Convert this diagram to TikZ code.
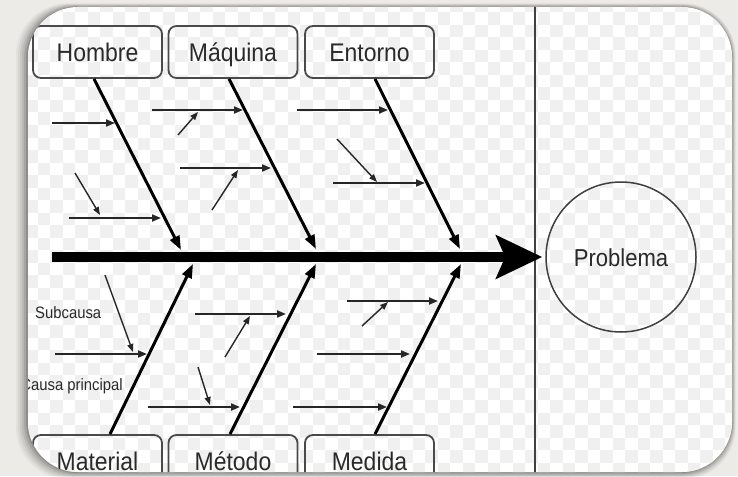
\documentclass[tikz,border=0pt]{standalone}
\usepackage{fontspec}
\newfontfamily\labfont[FakeStretch=0.9]{Liberation Sans}
\usetikzlibrary{arrows.meta}
\definecolor{bgout}{HTML}{ECEBE7}
\definecolor{chk}{HTML}{F0F0F0}
\definecolor{ink}{HTML}{2A2A2A}
\definecolor{boxline}{HTML}{4A4A4A}
\begin{document}
\begin{tikzpicture}[x=1pt,y=-1pt,
  catbox/.style={draw=boxline, line width=1.8pt, rounded corners=8pt,
    minimum width=129pt, minimum height=52pt, inner sep=0pt,
    text height=20pt, text depth=1pt, text=ink,
    font=\labfont\fontsize{25.5}{30}\selectfont},
  smalltxt/.style={text=ink, font=\labfont\fontsize{16.5}{20}\selectfont, inner sep=0pt},
  bone/.style={line width=3pt, -{Triangle[length=14pt,width=10pt]}},
  subarrow/.style={line width=2pt, draw=black!85, -{Triangle[length=9pt,width=7pt]}},
  subsub/.style={line width=1.4pt, draw=black!85, -{Triangle[length=8pt,width=6pt]}},
  frameshape/.style={rounded corners=50pt}
]
\useasboundingbox (0,0) rectangle (738,476);
\fill[bgout] (0,0) rectangle (738,476);
% shadow
\foreach \k/\o in {12/0.04,10/0.05,8/0.06,6/0.08,4/0.1,2/0.14}{
  \fill[black,opacity=\o,rounded corners=52pt] (28-\k,7-0.3*\k) rectangle (732+0.3*\k,472+0.6*\k);
}
\fill[white,frameshape] (28,7) rectangle (732,472);
\begin{scope}
\clip[frameshape] (28,7) rectangle (732,472);
% checkerboard
\foreach \x in {0,25,...,725}{
  \foreach \y in {0,25,...,475}{
    \fill[chk] (\x,\y) rectangle ++(12.5,12.5);
    \fill[chk] (\x+12.5,\y+12.5) rectangle ++(12.5,12.5);
  }
}
% divider
\coordinate (vt) at (535,0);
\coordinate (vb) at (535,476);
\draw[line width=1.6pt, black!75] (vt) -- (vb);
% problem
\node[circle, draw=black!75, line width=1.5pt, minimum size=150pt, inner sep=0pt,
  text height=19pt, text depth=1pt, text=ink,
  font=\labfont\fontsize{24.5}{28}\selectfont] (prob) at (621,257) {Problema};
% categories
\node[catbox] (hombre) at (97.5,52) {Hombre};
\node[catbox] (maquina) at (233,52) {Máquina};
\node[catbox] (entorno) at (369.5,52) {Entorno};
\node[catbox] (material) at (97.5,461) {Material};
\node[catbox] (metodo) at (233,461) {Método};
\node[catbox] (medida) at (369.5,461) {Medida};
% spine
\coordinate (spL) at (52,257);
\draw[line width=10pt, shorten >=3pt, -{Stealth[length=46pt,width=43pt,inset=9pt]}] (spL) -- (prob.west);
% bones
\coordinate (hT) at (181,250);
\coordinate (qT) at (316,249);
\coordinate (eT) at (460,249);
\coordinate (mT) at (193,264);
\coordinate (tT) at (316,264);
\coordinate (dT) at (461,264);
\draw[bone] ([xshift=-3.5pt]hombre.south) -- (hT);
\draw[bone] ([xshift=-4pt]maquina.south) -- (qT);
\draw[bone] ([xshift=5.5pt]entorno.south) -- (eT);
\draw[bone] ([xshift=12.5pt]material.north) -- (mT);
\draw[bone] ([xshift=-3pt]metodo.north) -- (tT);
\draw[bone] ([xshift=5.5pt]medida.north) -- (dT);
% sub-causes
\foreach \n/\xa/\xb/\y in {1/52/115/123, 2/69/161/218, 3/152/243/110, 4/180/271/168,
  5/297/388/110, 6/333/425/183, 7/55/147/354, 8/195/286/314, 9/148/240/407,
  10/347/438/301, 11/317/410/354, 12/293/387/407}{
  \coordinate (sa\n) at (\xa,\y);
  \coordinate (sb\n) at (\xb,\y);
  \draw[subarrow] (sa\n) -- (sb\n);
}
% sub-sub causes
\foreach \n/\xa/\ya/\xb/\yb in {1/75/173/100/215, 2/178/135/198/112, 3/212/210/238/170,
  4/337/139/377/182, 5/105/275/133/352, 6/225/357/250/316, 7/198/367/210/405,
  8/362/326/388/302}{
  \coordinate (da\n) at (\xa,\ya);
  \coordinate (db\n) at (\xb,\yb);
  \draw[subsub] (da\n) -- (db\n);
}
% labels
\node[smalltxt, anchor=base west] (lsub) at (35,318) {Subcausa};
\node[smalltxt, anchor=base east] (lcau) at (123,390) {Causa principal};
\end{scope}
\end{tikzpicture}
\end{document}
